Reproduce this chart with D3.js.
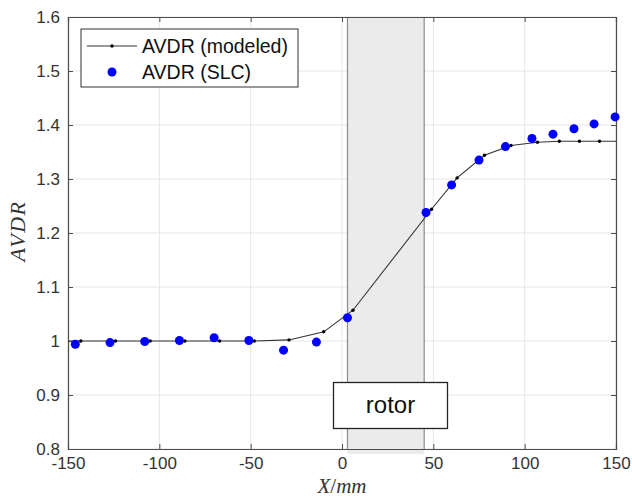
<!DOCTYPE html>
<html>
<head>
<meta charset="utf-8">
<script src="https://cdn.jsdelivr.net/npm/d3@7"></script>
<style>
  body { margin: 0; background: #fff; }
  svg { display: block; }
</style>
</head>
<body>
<svg width="632" height="499"></svg>
<script>
// data
var modelX = [-150, -143, -124, -105, -86, -67, -48, -29, -10, 6, 49, 63, 78, 92.5, 107, 119, 130, 141, 150];
var modelY = [1.0, 1.0, 1.0, 1.0, 1.0, 1.0, 1.0, 1.002, 1.017, 1.057, 1.244, 1.302, 1.344, 1.362, 1.368, 1.37, 1.37, 1.37, 1.37];
var slcX = [-146, -127, -108, -89, -70, -51, -32, -14, 3, 46, 60, 75, 89.5, 104, 115.5, 127, 138, 149.5];
var slcY = [0.994, 0.997, 0.999, 1.001, 1.006, 1.001, 0.983, 0.998, 1.043, 1.238, 1.289, 1.335, 1.360, 1.375, 1.383, 1.393, 1.402, 1.415];
var rotor = [3, 45];
var xTicks = [-150, -100, -50, 0, 50, 100, 150];
var yTicks = [0.8, 0.9, 1.0, 1.1, 1.2, 1.3, 1.4, 1.5, 1.6];
var seriesNames = ["AVDR (modeled)", "AVDR (SLC)"];

var svg = d3.select("svg");
var mLeft = 68, mRight = 616, mTop = 17, mBottom = 449;
var sans = "'Liberation Sans', Arial, sans-serif";
var serif = "'Liberation Serif', 'Times New Roman', serif";

var x = d3.scaleLinear().domain([-150, 150]).range([mLeft, mRight]);
var y = d3.scaleLinear().domain([0.8, 1.6]).range([mBottom, mTop]);

var axisCol = "#4d4d4d";

// grid
var grid = svg.append("g");
grid.selectAll(".gx").data(xTicks).enter().append("line")
    .attr("x1", function(d) { return x(d); }).attr("x2", function(d) { return x(d); })
    .attr("y1", mTop).attr("y2", mBottom)
    .attr("stroke", "#e6e6e6").attr("stroke-width", 1);
grid.selectAll(".gy").data(yTicks).enter().append("line")
    .attr("x1", mLeft).attr("x2", mRight)
    .attr("y1", function(d) { return y(d); }).attr("y2", function(d) { return y(d); })
    .attr("stroke", "#e6e6e6").attr("stroke-width", 1);

// rotor band
svg.append("rect")
    .attr("x", x(rotor[0])).attr("y", mTop)
    .attr("width", x(rotor[1]) - x(rotor[0])).attr("height", mBottom - mTop + 5)
    .attr("fill", "#ebebeb");
svg.selectAll(".redge").data(rotor).enter().append("line")
    .attr("x1", function(d) { return x(d); }).attr("x2", function(d) { return x(d); })
    .attr("y1", mTop).attr("y2", mBottom)
    .attr("stroke", "#8c8c8c").attr("stroke-width", 1.2);

function styleAxis(g) {
  g.select(".domain").attr("stroke", axisCol).attr("stroke-width", 1.2);
  g.selectAll(".tick line").attr("stroke", axisCol);
  g.selectAll(".tick text").attr("fill", "#333")
      .style("font-size", "17px").style("font-family", sans);
}

// axes (box with inward ticks)
svg.append("g").attr("transform", "translate(0," + mBottom + ")")
    .call(d3.axisBottom(x).tickValues(xTicks).tickSize(-5).tickPadding(8).tickFormat(function(d) { return String(d); }))
    .call(styleAxis);
svg.append("g").attr("transform", "translate(0," + mTop + ")")
    .call(d3.axisTop(x).tickValues(xTicks).tickSize(-5).tickFormat(""))
    .call(styleAxis);
svg.append("g").attr("transform", "translate(" + mLeft + ",0)")
    .call(d3.axisLeft(y).tickValues(yTicks).tickSize(-5).tickPadding(8).tickFormat(function(d) { return String(+d.toFixed(1)); }))
    .call(styleAxis);
svg.append("g").attr("transform", "translate(" + mRight + ",0)")
    .call(d3.axisRight(y).tickValues(yTicks).tickSize(-5).tickFormat(""))
    .call(styleAxis);

// modeled line
var pts = modelX.map(function(d, i) { return [d, modelY[i]]; });
svg.append("path").datum(pts)
    .attr("fill", "none").attr("stroke", "#333").attr("stroke-width", 1.1)
    .attr("d", d3.line().x(function(d) { return x(d[0]); }).y(function(d) { return y(d[1]); }));
svg.selectAll(".md").data(pts.slice(1, -1)).enter().append("circle")
    .attr("cx", function(d) { return x(d[0]); }).attr("cy", function(d) { return y(d[1]); })
    .attr("r", 1.7).attr("fill", "#000");

// SLC points
svg.selectAll(".slc").data(slcX).enter().append("circle")
    .attr("cx", function(d) { return x(d); })
    .attr("cy", function(d, i) { return y(slcY[i]); })
    .attr("r", 4.5).attr("fill", "#0000ff");

// rotor label
var rb = svg.append("g");
rb.append("rect").attr("x", 333.5).attr("y", 382.5).attr("width", 114).attr("height", 46)
    .attr("fill", "#fff").attr("stroke", "#222").attr("stroke-width", 1.3);
rb.append("text").attr("x", 390.5).attr("y", 405).attr("text-anchor", "middle")
    .attr("dy", "0.35em").attr("fill", "#111")
    .style("font-family", sans).style("font-size", "24px").text("rotor");

// legend
var lg = svg.append("g");
lg.append("rect").attr("x", 81).attr("y", 29).attr("width", 217).attr("height", 58)
    .attr("fill", "#fff").attr("stroke", "#333").attr("stroke-width", 1);
lg.append("line").attr("x1", 87).attr("x2", 137).attr("y1", 46).attr("y2", 46)
    .attr("stroke", "#333").attr("stroke-width", 1.1);
lg.append("circle").attr("cx", 112).attr("cy", 46).attr("r", 1.7).attr("fill", "#000");
lg.append("circle").attr("cx", 112).attr("cy", 72).attr("r", 4.5).attr("fill", "#0000ff");
lg.selectAll(".lt").data(seriesNames).enter().append("text")
    .attr("x", 142).attr("y", function(d, i) { return 46 + i * 26; })
    .attr("dy", "0.35em").attr("fill", "#111")
    .style("font-family", sans).style("font-size", "19.5px")
    .text(function(d) { return d; });

// axis titles
svg.append("text").attr("transform", "translate(25," + 231 + ") rotate(-90)")
    .attr("text-anchor", "middle").attr("fill", "#333")
    .style("font-family", serif).style("font-style", "italic").style("font-size", "22px")
    .style("letter-spacing", "1.5px").text("AVDR");
var xl = svg.append("text").attr("x", x(0)).attr("y", 493)
    .attr("text-anchor", "middle").attr("fill", "#333")
    .style("font-family", serif).style("font-size", "21px");
xl.append("tspan").style("font-style", "italic").text("X");
xl.append("tspan").text("/");
xl.append("tspan").style("font-style", "italic").text("mm");
</script>
</body>
</html>
